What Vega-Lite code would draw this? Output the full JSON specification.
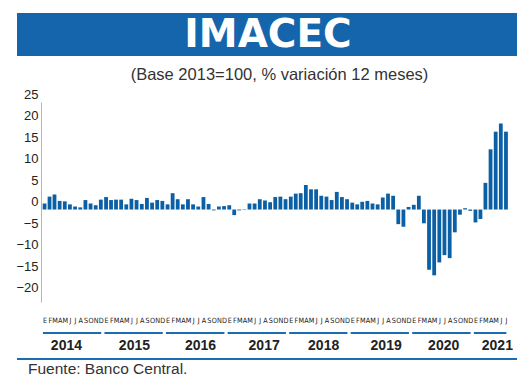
{
  "$schema": "https://vega.github.io/schema/vega-lite/v6.json",
  "background": "white",
  "padding": {"left": 15, "top": 13, "right": 5, "bottom": 0},
  "spacing": 5,
  "config": {
    "view": {"stroke": null},
    "locale": {"number": {"decimal": ",", "thousands": ".", "grouping": [3], "currency": ["$", ""]}}
  },
  "datasets": {
    "imacec": [
      {"m": "2014-01", "v": 1.4}, {"m": "2014-02", "v": 3.0}, {"m": "2014-03", "v": 3.5}, {"m": "2014-04", "v": 2.0},
      {"m": "2014-05", "v": 1.9}, {"m": "2014-06", "v": 1.2}, {"m": "2014-07", "v": 0.7}, {"m": "2014-08", "v": 0.5},
      {"m": "2014-09", "v": 2.2}, {"m": "2014-10", "v": 1.4}, {"m": "2014-11", "v": 1.0}, {"m": "2014-12", "v": 2.3},
      {"m": "2015-01", "v": 2.9}, {"m": "2015-02", "v": 2.2}, {"m": "2015-03", "v": 2.3}, {"m": "2015-04", "v": 2.3},
      {"m": "2015-05", "v": 1.2}, {"m": "2015-06", "v": 2.5}, {"m": "2015-07", "v": 2.2}, {"m": "2015-08", "v": 1.3},
      {"m": "2015-09", "v": 2.7}, {"m": "2015-10", "v": 1.6}, {"m": "2015-11", "v": 2.2}, {"m": "2015-12", "v": 2.0},
      {"m": "2016-01", "v": 1.2}, {"m": "2016-02", "v": 3.8}, {"m": "2016-03", "v": 2.4}, {"m": "2016-04", "v": 1.2},
      {"m": "2016-05", "v": 2.4}, {"m": "2016-06", "v": 1.2}, {"m": "2016-07", "v": 0.7}, {"m": "2016-08", "v": 2.9},
      {"m": "2016-09", "v": 1.3}, {"m": "2016-10", "v": -0.2}, {"m": "2016-11", "v": 0.7}, {"m": "2016-12", "v": 0.8},
      {"m": "2017-01", "v": 1.0}, {"m": "2017-02", "v": -1.3}, {"m": "2017-03", "v": -0.2}, {"m": "2017-04", "v": -0.1},
      {"m": "2017-05", "v": 1.4}, {"m": "2017-06", "v": 1.4}, {"m": "2017-07", "v": 2.4}, {"m": "2017-08", "v": 2.1},
      {"m": "2017-09", "v": 1.7}, {"m": "2017-10", "v": 2.9}, {"m": "2017-11", "v": 3.0}, {"m": "2017-12", "v": 2.4},
      {"m": "2018-01", "v": 3.0}, {"m": "2018-02", "v": 3.7}, {"m": "2018-03", "v": 3.8}, {"m": "2018-04", "v": 5.7},
      {"m": "2018-05", "v": 4.7}, {"m": "2018-06", "v": 4.7}, {"m": "2018-07", "v": 3.2}, {"m": "2018-08", "v": 3.0},
      {"m": "2018-09", "v": 2.2}, {"m": "2018-10", "v": 4.1}, {"m": "2018-11", "v": 2.9}, {"m": "2018-12", "v": 2.4},
      {"m": "2019-01", "v": 1.6}, {"m": "2019-02", "v": 1.2}, {"m": "2019-03", "v": 1.8}, {"m": "2019-04", "v": 2.0},
      {"m": "2019-05", "v": 1.4}, {"m": "2019-06", "v": 1.2}, {"m": "2019-07", "v": 2.8}, {"m": "2019-08", "v": 3.7},
      {"m": "2019-09", "v": 3.2}, {"m": "2019-10", "v": -3.4}, {"m": "2019-11", "v": -4.0}, {"m": "2019-12", "v": 0.6},
      {"m": "2020-01", "v": 1.1}, {"m": "2020-02", "v": 3.2}, {"m": "2020-03", "v": -3.2}, {"m": "2020-04", "v": -14.0},
      {"m": "2020-05", "v": -15.3}, {"m": "2020-06", "v": -12.3}, {"m": "2020-07", "v": -10.6}, {"m": "2020-08", "v": -11.3},
      {"m": "2020-09", "v": -5.3}, {"m": "2020-10", "v": -1.2}, {"m": "2020-11", "v": 0.3}, {"m": "2020-12", "v": -0.3},
      {"m": "2021-01", "v": -3.0}, {"m": "2021-02", "v": -2.2}, {"m": "2021-03", "v": 6.2}, {"m": "2021-04", "v": 14.0},
      {"m": "2021-05", "v": 18.1}, {"m": "2021-06", "v": 20.0}, {"m": "2021-07", "v": 18.1}
    ],
    "years": [
      {"year": "2014", "start": "2014-01", "end": "2014-12"},
      {"year": "2015", "start": "2015-01", "end": "2015-12"},
      {"year": "2016", "start": "2016-01", "end": "2016-12"},
      {"year": "2017", "start": "2017-01", "end": "2017-12"},
      {"year": "2018", "start": "2018-01", "end": "2018-12"},
      {"year": "2019", "start": "2019-01", "end": "2019-12"},
      {"year": "2020", "start": "2020-01", "end": "2020-12"},
      {"year": "2021", "start": "2021-01", "end": "2021-07"}
    ]
  },
  "vconcat": [
    {
      "width": 500,
      "height": 43,
      "view": {"fill": "#1565ad", "stroke": null},
      "data": {"values": [{"t": "IMACEC"}]},
      "mark": {"type": "text", "font": "DejaVu Sans", "fontWeight": "bold", "fontSize": 39, "color": "white", "baseline": "alphabetic", "dy": 12, "dx": 1},
      "encoding": {"text": {"field": "t", "type": "nominal"}},
      "title": {"text": "(Base 2013=100, % variación 12 meses)", "orient": "bottom", "offset": 10.5, "font": "Liberation Sans, Arial, sans-serif", "fontSize": 16.5, "fontWeight": "normal", "color": "#333333", "dx": 12.5}
    },
    {
      "width": 500,
      "height": 200,
      "data": {"name": "imacec"},
      "encoding": {
        "x": {
          "field": "m", "type": "temporal", "timeUnit": "utcyearmonth", "bandPosition": 0.5,
          "scale": {"type": "utc", "domain": [{"year": 2013, "month": "aug", "date": 6, "utc": true}, {"year": 2021, "month": "sep", "date": 20, "utc": true}]},
          "axis": {
            "orient": "bottom", "domain": false, "ticks": false, "grid": false, "title": null,
            "tickCount": {"interval": "month", "step": 1},
            "labelExpr": "(datum.value < utc(2014,0,1) || datum.value > utc(2021,6,15)) ? '' : ['E','F','M','A','M','J','J','A','S','O','N','D'][utcmonth(datum.value)]",
            "labelOffset": 2.6, "labelPadding": 14, "labelOverlap": false, "labelFlush": false, "labelBound": false,
            "labelFont": "DejaVu Sans Condensed, Liberation Sans, sans-serif", "labelFontWeight": "normal", "labelFontSize": 7.2, "labelColor": "#1a1a1a"
          }
        },
        "y": {
          "field": "v", "type": "quantitative",
          "scale": {"domain": [-21.5, 25], "nice": false},
          "axis": {
            "orient": "left", "offset": -24, "values": [-20, -15, -10, -5, 0, 5, 10, 15, 20, 25],
            "domain": true, "domainColor": "#b5b5b5", "domainWidth": 1, "ticks": false, "grid": false, "title": null,
            "labelFont": "Liberation Sans, Arial, sans-serif", "labelFontSize": 13, "labelColor": "#222222", "labelPadding": 3, "labelOffset": -8
          }
        }
      },
      "layer": [
        {
          "mark": {"type": "bar", "width": 3.8},
          "encoding": {
            "color": {"condition": {"test": "datum.m === '2021-07'", "value": "#6aaee2"}, "value": "#0b5fa5"}
          }
        },
        {
          "transform": [{"filter": {"field": "m", "equal": "2021-07"}}],
          "mark": {"type": "text", "align": "right", "baseline": "alphabetic", "dy": -19, "dx": -2, "font": "Liberation Sans, Arial, sans-serif", "fontSize": 15, "color": "#222222"},
          "encoding": {"text": {"field": "v", "type": "quantitative", "format": ".1f"}}
        }
      ]
    },
    {
      "width": 500,
      "height": 8,
      "data": {"name": "years"},
      "mark": {"type": "rule", "color": "#1a6db3", "strokeWidth": 2, "xOffset": 1, "x2Offset": 3},
      "encoding": {
        "x": {
          "field": "start", "type": "temporal",
          "scale": {"type": "utc", "domain": [{"year": 2013, "month": "aug", "date": 6, "utc": true}, {"year": 2021, "month": "sep", "date": 20, "utc": true}]},
          "axis": {
            "orient": "bottom", "domain": false, "ticks": false, "grid": false, "title": null,
            "tickCount": {"interval": "year", "step": 1}, "format": "%Y",
            "labelOffset": {"condition": [
              {"test": "utcyear(datum.value) == 2014", "value": 24},
              {"test": "utcyear(datum.value) == 2015", "value": 30.5},
              {"test": "utcyear(datum.value) == 2016", "value": 35},
              {"test": "utcyear(datum.value) == 2017", "value": 37},
              {"test": "utcyear(datum.value) == 2018", "value": 35},
              {"test": "utcyear(datum.value) == 2019", "value": 36},
              {"test": "utcyear(datum.value) == 2020", "value": 32},
              {"test": "utcyear(datum.value) == 2021", "value": 24}
            ], "value": 34},
            "labelPadding": 1.75, "labelOverlap": false, "labelFlush": false, "labelBound": false,
            "labelFont": "Liberation Sans, Arial, sans-serif", "labelFontWeight": "bold", "labelFontSize": 14, "labelColor": "#222222"
          }
        },
        "x2": {"field": "end"}
      }
    },
    {
      "width": 500,
      "height": 2,
      "view": {"fill": "#1a6db3", "stroke": null},
      "data": {"values": []},
      "mark": "point",
      "encoding": {},
      "title": {"text": "Fuente: Banco Central.", "orient": "bottom", "anchor": "start", "offset": 1.5, "font": "Liberation Sans, Arial, sans-serif", "fontSize": 15.5, "fontWeight": "normal", "color": "#333333", "dx": 11}
    }
  ]
}
